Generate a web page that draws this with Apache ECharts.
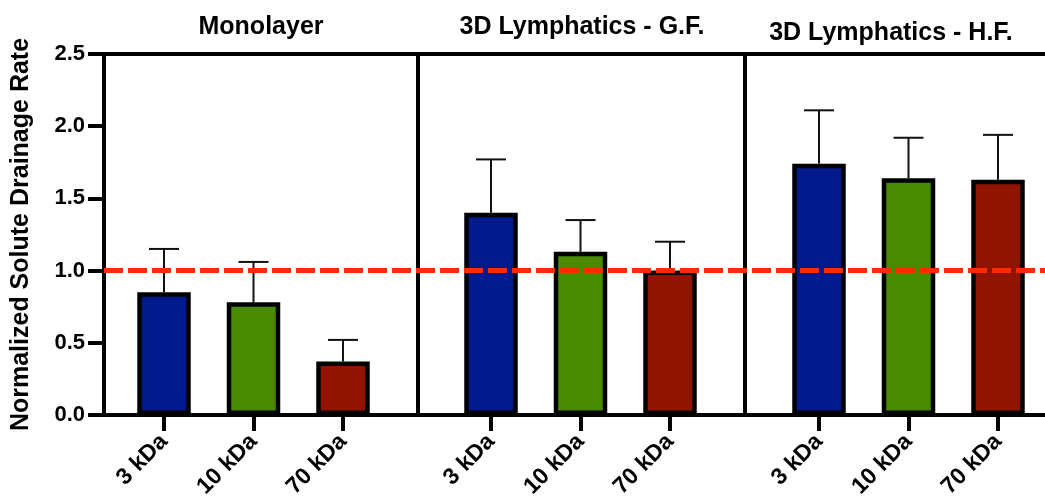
<!DOCTYPE html>
<html>
<head>
<meta charset="utf-8">
<script src="https://cdn.jsdelivr.net/npm/echarts@6/dist/echarts.min.js"></script>
<style>
  html, body { margin: 0; padding: 0; background: #fff; }
  #chart { width: 1045px; height: 503px; }
</style>
</head>
<body>
<div id="chart"></div>
<script>
// Solute sizes (shared by every panel)
const sizes = ['3 kDa', '10 kDa', '70 kDa'];
const panelTitles = ['Monolayer', '3D Lymphatics - G.F.', '3D Lymphatics - H.F.'];

// Mean normalized drainage rate per panel
const monolayerMean = [0.85, 0.78, 0.37];
const gfMean = [1.40, 1.13, 1.00];
const hfMean = [1.74, 1.64, 1.63];

// Upper error (SD) per panel
const monolayerErr = [0.30, 0.28, 0.15];
const gfErr = [0.37, 0.22, 0.20];
const hfErr = [0.37, 0.28, 0.31];

// Control level
const controlLevel = 1.0;

const yTicks = { min: 0, max: 2.5, step: 0.5 };

const barColors = ['#021A8C', '#4A8A00', '#911400'];
const FONT = '"Liberation Sans", Arial, Helvetica, sans-serif';

const means = [monolayerMean, gfMean, hfMean];
const errs = [monolayerErr, gfErr, hfErr];

// layout
const plotTop = 54, plotBottom = 415;
const frameLeft = 104;
const dividers = [104, 418, 745];
const catStep = 89.5;
const panelCenters = [253.5, 580.5, 908.5];
const innerW = catStep * 3;

const grids = [];
const xAxes = [];
const yAxes = [];
const series = [];

panelCenters.forEach((c, i) => {
  const left = c - innerW / 2;
  grids.push({ left: left, top: plotTop, width: innerW, height: plotBottom - plotTop });
  xAxes.push({
    type: 'category', gridIndex: i, data: sizes,
    axisLine: { show: false },
    axisTick: { show: true, alignWithLabel: true, length: 16, lineStyle: { color: '#000', width: 4 } },
    axisLabel: { rotate: 45, margin: 23, color: '#000', fontFamily: FONT, fontWeight: 700, fontSize: 23 }
  });
  const y = {
    type: 'value', gridIndex: i, min: yTicks.min, max: yTicks.max, interval: yTicks.step,
    offset: left - dividers[i],
    splitLine: { show: false },
    axisLine: { show: true, lineStyle: { color: '#000', width: 4 } },
    axisTick: { show: false },
    axisLabel: { show: false }
  };
  if (i === 0) {
    y.axisTick = { show: true, length: 16, lineStyle: { color: '#000', width: 4 } };
    y.axisLabel = {
      show: true, margin: 19, color: '#000', fontFamily: FONT, fontWeight: 700, fontSize: 22,
      formatter: v => v.toFixed(1)
    };
    y.name = 'Normalized Solute Drainage Rate';
    y.nameLocation = 'middle';
    y.nameRotate = 90;
    y.nameGap = 70;
    y.nameTextStyle = { color: '#000', fontFamily: FONT, fontWeight: 700, fontSize: 25 };
  }
  yAxes.push(y);

  series.push({
    type: 'bar', xAxisIndex: i, yAxisIndex: i,
    barWidth: 53.5,
    z: 3,
    data: means[i].map((v, k) => ({
      value: v,
      itemStyle: { color: barColors[k], borderColor: '#000', borderWidth: 4.5 }
    }))
  });

  series.push({
    type: 'custom', xAxisIndex: i, yAxisIndex: i, z: 2,
    data: means[i].map((v, k) => [k, v, errs[i][k]]),
    renderItem: function (params, api) {
      const k = api.value(0), m = api.value(1), e = api.value(2);
      const base = api.coord([k, m]);
      const top = api.coord([k, m + e]);
      const half = 15;
      const st = { stroke: '#111', lineWidth: 2 };
      return {
        type: 'group',
        children: [
          { type: 'line', shape: { x1: base[0], y1: base[1], x2: top[0], y2: top[1] }, style: st },
          { type: 'line', shape: { x1: top[0] - half, y1: top[1], x2: top[0] + half, y2: top[1] }, style: st }
        ]
      };
    }
  });
});

// frame across all panels: bottom baseline, top border, control line
grids.push({ left: frameLeft, top: plotTop, width: 1071 - frameLeft, height: plotBottom - plotTop });
xAxes.push({
  type: 'value', gridIndex: 3, min: 0, max: 1, position: 'bottom',
  axisLine: { show: true, onZero: false, lineStyle: { color: '#000', width: 4 } },
  axisTick: { show: false }, axisLabel: { show: false }, splitLine: { show: false }
});
xAxes.push({
  type: 'value', gridIndex: 3, min: 0, max: 1, position: 'top',
  axisLine: { show: true, onZero: false, lineStyle: { color: '#000', width: 4 } },
  axisTick: { show: false }, axisLabel: { show: false }, splitLine: { show: false }
});
yAxes.push({
  type: 'value', gridIndex: 3, min: yTicks.min, max: yTicks.max, show: false
});

series.push({
  type: 'line', xAxisIndex: 3, yAxisIndex: 3, z: 10,
  symbol: 'none', silent: true,
  lineStyle: { color: '#FF2A00', width: 5, type: [19, 5] },
  data: [[0, controlLevel], [1, controlLevel]]
});

const titleX = [261, 582, 891];
const titleY = [27, 27, 33];

const chart = echarts.init(document.getElementById('chart'), null, { renderer: 'canvas' });
chart.setOption({
  animation: false,
  backgroundColor: '#fff',
  grid: grids,
  xAxis: xAxes,
  yAxis: yAxes,
  series: series,
  graphic: panelTitles.map((t, i) => ({
    type: 'text', x: titleX[i], y: titleY[i],
    style: {
      text: t,
      textAlign: 'center', textVerticalAlign: 'middle',
      fill: '#000', font: 'bold 25px ' + FONT
    }
  }))
});
</script>
</body>
</html>
